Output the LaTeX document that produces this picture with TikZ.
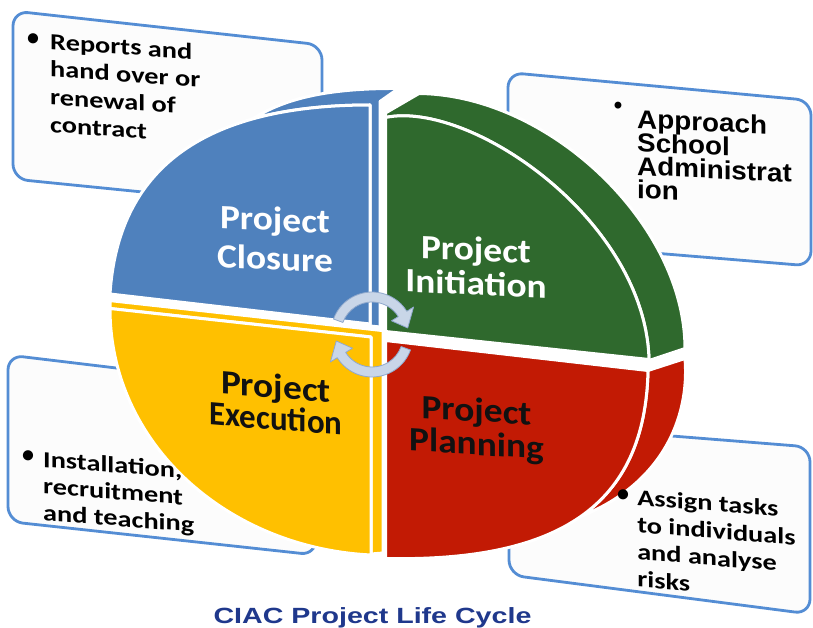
\documentclass[tikz,border=0pt]{standalone}
\usepackage{fontspec}
\usepackage{graphicx}
\newfontfamily\calfont{Carlito}
\newfontfamily\arifont{Liberation Sans}
\definecolor{pblue}{RGB}{79,129,189}
\definecolor{pgreen}{RGB}{47,105,45}
\definecolor{pred}{RGB}{194,26,4}
\definecolor{pyellow}{RGB}{255,192,0}
\definecolor{boxblue}{RGB}{84,141,212}
\definecolor{boxfill}{RGB}{252,252,252}
\definecolor{arrowfill}{RGB}{201,214,232}
\definecolor{arrowline}{RGB}{143,168,204}
\definecolor{titleblue}{RGB}{31,56,140}
\definecolor{labdark}{RGB}{17,17,17}
\newcommand{\leftlines}[2]{\vtop{\baselineskip=#1\lineskiplimit=-100pt\lineskip=0pt\halign{##\hfil\cr#2\crcr}}}
\newcommand{\midlines}[2]{\vtop{\baselineskip=#1\lineskiplimit=-100pt\lineskip=0pt\halign{\hfil##\hfil\cr#2\crcr}}}
\tikzset{
  piece/.style={draw=white, line width=3pt, line join=round},
  tbox/.style={draw=boxblue, line width=2.8pt, fill=boxfill, rounded corners=15pt},
  btxt/.style={font=\calfont\bfseries\fontsize{23}{27}\selectfont, inner sep=0pt, anchor=base west, xscale=1.23, text=black},
  bul/.style={inner sep=0pt, anchor=center, text=black},
  lab/.style={font=\calfont\bfseries\fontsize{34}{34}\selectfont, inner sep=0pt, anchor=base, xscale=1.1},
  arr/.style={fill=arrowfill, draw=arrowline, line width=0.8pt, line join=round}
}
\begin{document}
\begin{tikzpicture}[x=1pt, y=-1pt]
\useasboundingbox (0,0) rectangle (813,628);
\fill[white] (0,0) rectangle (813,628);

% text boxes (behind the pie)
\draw[tbox] (13,11) -- (322,45) -- (322,210) -- (13,179) -- cycle;
\draw[tbox] (508,72.5) -- (811,100.5) -- (811,266) -- (508,241) -- cycle;
\draw[tbox] (8,355) -- (316,392) -- (316,555) -- (8,521.5) -- cycle;
\draw[tbox] (509,423) -- (810,447) -- (810,614) -- (509,575) -- cycle;

% Project Closure (blue): side band + strip, then front face
\path[piece, fill=pblue] (253.1,118.7) .. controls (285,98) and (330,88) .. (398.5,88.5) -- (380,101.5) -- (380,327) -- (370,326) -- (370,105) .. controls (325,105) and (286.1,109.6) .. (253.1,118.7) -- cycle;
\path[piece, fill=pblue] (370,105) -- (370,324) -- (110,294) .. controls (118,170.5) and (201,105) .. (370,105) -- cycle;

% Project Execution (yellow): thin strips, then front face
\path[piece, fill=pyellow] (110,300.6) -- (383,330.6) -- (383,553) -- (371,554) -- (371,337) -- (110,308.5) -- cycle;
\path[piece, fill=pyellow] (110,308.5) -- (371,337) -- (371,555) .. controls (227.5,548) and (110,444) .. (110,308.5) -- cycle;

% Project Initiation (green): side band, then front face
\path[piece, fill=pgreen] (385.5,113) -- (419,93.5) .. controls (550,95) and (685,225) .. (685,348.5) -- (649,360.5) -- (649,359.5) .. controls (645,220) and (470,100) .. (385.5,117.5) -- cycle;
\path[piece, fill=pgreen] (385.5,117.5) -- (385.5,331.5) -- (649,359.5) .. controls (645,220) and (470,100) .. (385.5,117.5) -- cycle;

% Project Planning (red): side band, then front face
\path[piece, fill=pred] (648,370.5) -- (685,358.5) .. controls (690,420) and (660,485) .. (581,516.25) .. controls (624.5,485.6) and (646.5,437.75) .. (648,370.5) -- cycle;
\path[piece, fill=pred] (385.5,340.5) -- (648,370.5) .. controls (645,505) and (560,562) .. (385.5,558.5) -- cycle;

% box texts
\node[bul, font=\calfont\bfseries\fontsize{24}{24}\selectfont] (b1) at (33,40) {•};
\node[btxt, yslant=-0.09] (t1) at (50,49) {\leftlines{27.7pt}{Reports and\cr hand over or\cr renewal of\cr contract}};
\node[bul, font=\arifont\bfseries\fontsize{24}{24}\selectfont] (b2) at (618,108) {•};
\node[btxt, font=\arifont\bfseries\fontsize{26}{24}\selectfont, xscale=1.07/1.23, yslant=-0.05] (t2) at (637,128) {\leftlines{23.5pt}{Approach\cr School\cr Administrat\cr ion}};
\node[bul, font=\calfont\bfseries\fontsize{24}{24}\selectfont] (b3) at (28,457) {•};
\node[btxt, yslant=-0.1] (t3) at (43,467) {\leftlines{26.5pt}{Installation,\cr recruitment\cr and teaching}};
\node[bul, font=\calfont\bfseries\fontsize{24}{24}\selectfont] (b4) at (623,496) {•};
\node[btxt, yslant=-0.1] (t4) at (637,505) {\leftlines{27.3pt}{Assign tasks\cr to individuals\cr and analyse\cr risks}};

% labels
\node[lab, text=white, yslant=-0.05] (closure) at (275,231) {\midlines{39pt}{Project\cr Closure}};
\node[lab, text=white, yslant=-0.05] (initiation) at (476,261) {\midlines{34pt}{Project\cr Initiation}};
\node[lab, text=labdark, yslant=-0.09] (execution) at (276,398) {\midlines{32pt}{Project\cr \scalebox{0.88}[1]{Execution}}};
\node[lab, text=labdark, yslant=-0.07] (planning) at (476.5,421.5) {\midlines{33.5pt}{Project\cr Planning}};

% cycle arrows
\path[arr] (333.5,319.0) arc[start angle=200, end angle=328, radius=41] -- (413.6,307.0) -- (407.7,328.0) -- (391.5,320.8) -- (398.3,316.6) arc[start angle=328, end angle=200, radius=31] -- cycle;
\path[arr] (410.5,350.0) arc[start angle=20, end angle=148, radius=41] -- (330.4,362.0) -- (336.3,341.0) -- (352.5,348.2) -- (345.7,352.4) arc[start angle=148, end angle=20, radius=31] -- cycle;

% title
\node[inner sep=0pt, anchor=base, font=\arifont\bfseries\fontsize{22}{22}\selectfont, text=titleblue, xscale=1.3] (title) at (372.5,623) {CIAC Project Life Cycle};
\end{tikzpicture}
\end{document}
